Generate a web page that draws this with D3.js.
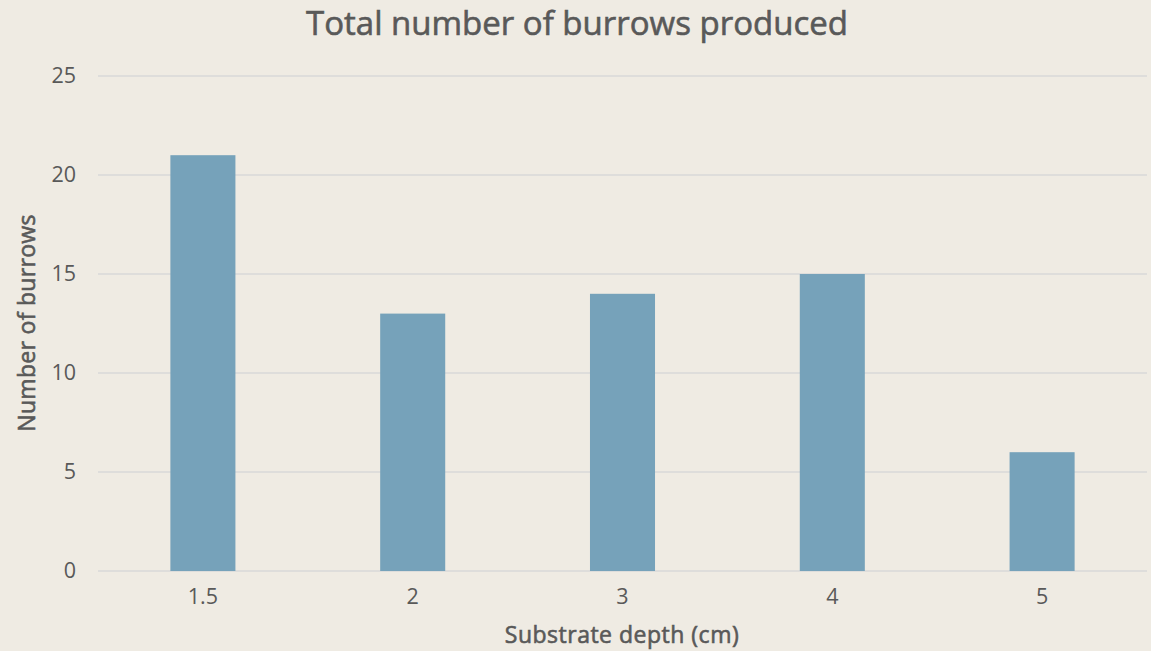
<!DOCTYPE html>
<html>
<head>
<meta charset="utf-8">
<script src="https://cdn.jsdelivr.net/npm/d3@7/dist/d3.min.js"></script>
<style>
  html, body { margin: 0; padding: 0; background: #EFEBE3; }
  svg { display: block; }
  text { font-family: "Open Sans", "Roboto", sans-serif; fill: #595959; }
</style>
</head>
<body>
<svg id="chart" width="1151" height="651"></svg>
<script>
// Burrow counts by substrate depth
const depths = ["1.5", "2", "3", "4", "5"];
const burrows = [21, 13, 14, 15, 6];
const yTicks = [0, 5, 10, 15, 20, 25];

const W = 1151, H = 651;
const margin = { left: 98, right: 4, top: 76, bottom: 80 };
const plotBottom = 571;
const fontStack = "'Open Sans', Roboto, sans-serif";
const textColor = "#595959";

const svg = d3.select("#chart");
svg.append("rect").attr("width", W).attr("height", H).attr("fill", "#EFEBE3");

const x = d3.scaleBand()
  .domain(depths)
  .range([margin.left, W - margin.right])
  .paddingInner(0.69)
  .paddingOuter(0.345);

const y = d3.scaleLinear()
  .domain([0, 25])
  .range([plotBottom, margin.top]);

// Horizontal gridlines
svg.append("g")
  .selectAll("line")
  .data(yTicks)
  .join("line")
  .attr("x1", margin.left)
  .attr("x2", W - margin.right)
  .attr("y1", d => y(d))
  .attr("y2", d => y(d))
  .attr("stroke", "#D9D9D9")
  .attr("stroke-width", 1.5);

// Bars
svg.append("g")
  .selectAll("rect")
  .data(depths.map((d, i) => ({ depth: d, value: burrows[i] })))
  .join("rect")
  .attr("x", d => x(d.depth))
  .attr("width", x.bandwidth())
  .attr("y", d => y(d.value))
  .attr("height", d => y(0) - y(d.value))
  .attr("fill", "#76A2BA");

// Y axis labels
const yAxis = d3.axisLeft(y).tickValues(yTicks).tickSize(0).tickPadding(0);
const gy = svg.append("g")
  .attr("transform", `translate(${76},0)`)
  .call(yAxis);
gy.select(".domain").remove();
gy.selectAll("text")
  .attr("font-size", 21.5)
  .attr("fill", textColor)
  .attr("font-family", fontStack);

// X axis labels
const xAxis = d3.axisBottom(x).tickSize(0).tickPadding(0);
const gx = svg.append("g")
  .attr("transform", `translate(0,${plotBottom + 18})`)
  .call(xAxis);
gx.select(".domain").remove();
gx.selectAll("text")
  .attr("font-size", 21.5)
  .attr("fill", textColor)
  .attr("font-family", fontStack);

// Titles get a thin outline for a medium weight
function medium(sel) {
  return sel.attr("stroke", textColor).attr("stroke-width", 0.6).attr("paint-order", "stroke");
}

// Chart title
svg.append("text")
  .attr("x", 577)
  .attr("y", 35)
  .attr("text-anchor", "middle")
  .attr("font-size", 33)
  .call(medium)
  .text("Total number of burrows produced");

// Axis titles
svg.append("text")
  .attr("x", 622)
  .attr("y", 643)
  .attr("text-anchor", "middle")
  .attr("font-size", 23)
  .attr("letter-spacing", 0.5)
  .call(medium)
  .text("Substrate depth (cm)");

svg.append("text")
  .attr("transform", "translate(35,323) rotate(-90)")
  .attr("text-anchor", "middle")
  .attr("font-size", 23)
  .attr("letter-spacing", 0.3)
  .call(medium)
  .text("Number of burrows");
</script>
</body>
</html>
